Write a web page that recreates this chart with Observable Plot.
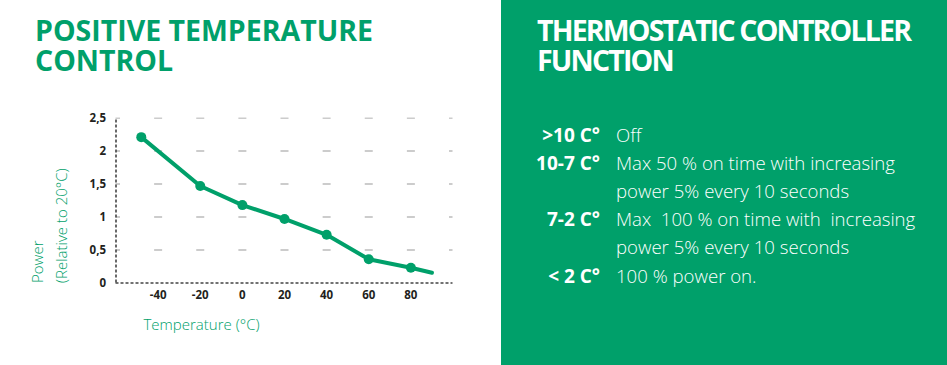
<!DOCTYPE html>
<html>
<head>
<meta charset="utf-8">
<script src="https://cdn.jsdelivr.net/npm/d3@7"></script>
<script src="https://cdn.jsdelivr.net/npm/@observablehq/plot@0.6"></script>
<style>
  html, body { margin: 0; padding: 0; background: #fff; }
  #root { position: relative; width: 947px; height: 365px; overflow: hidden; font-family: "Open Sans", sans-serif; }
  .title { position: absolute; font-weight: 700; font-size: 28.5px; white-space: nowrap; }
  .title .ln { height: 30px; line-height: 30px; }
  .title .ln span { display: inline-block; line-height: 30px; }
  #leftTitle { left: 35px; top: 15px; color: #00a06a; }
  #panel { position: absolute; left: 501px; top: 0; width: 446px; height: 365px; background: #00a06a; }
  #rightTitle { left: 36px; top: 15px; color: #fff; }
  #rows { position: absolute; left: 0; top: 120.5px; display: grid; grid-template-columns: 99px auto; column-gap: 16px; color: #fff; font-size: 18.6px; line-height: 28.2px; }
  #rows .lab { text-align: right; font-weight: 700; white-space: nowrap; font-size: 19px; }
  #rows .desc { font-weight: 300; white-space: pre; }
  #chart { position: absolute; left: 0; top: 100px; }
  #chart [aria-label$="tick label"] text { font-weight: 700; }
</style>
</head>
<body>
<div id="root">
  <div id="leftTitle" class="title"></div>
  <div id="chart"></div>
  <div id="panel">
    <div id="rightTitle" class="title"></div>
    <div id="rows"></div>
  </div>
</div>
<script>
// ---- data ----
const leftTitleLines = ["POSITIVE TEMPERATURE", "CONTROL"];
const rightTitleLines = ["THERMOSTATIC CONTROLLER", "FUNCTION"];
const temps = [-48, -20, 0, 20, 40, 60, 80, 90];
const powers = [2.21, 1.47, 1.18, 0.97, 0.73, 0.36, 0.23, 0.155];
const markerFlags = [true, true, true, true, true, true, true, false];
const xTicks = [-40, -20, 0, 20, 40, 60, 80];
const yTicks = [0, 0.5, 1, 1.5, 2, 2.5];
const gridTemps = [-60, -40, -20, 0, 20, 40, 60, 80, 100];
const xTitle = "Temperature (°C)";
const yTitleLines = ["Power", "(Relative to 20°C)"];
const controllerLabels = [">10 C°", "10-7 C°", "", "7-2 C°", "", "< 2 C°"];
const controllerTexts = [
  "Off",
  "Max 50 % on time with increasing",
  "power 5% every 10 seconds",
  "Max  100 % on time with  increasing",
  "power 5% every 10 seconds",
  "100 % power on."
];

// ---- titles / right panel ----
function buildTitle(el, lines, targetWidth) {
  const spans = lines.map(t => {
    const ln = document.createElement("div"); ln.className = "ln";
    const s = document.createElement("span"); s.textContent = t;
    ln.appendChild(s); el.appendChild(ln);
    return s;
  });
  const w = spans[0].getBoundingClientRect().width;
  const ls = (targetWidth - w) / Math.max(1, lines[0].length - 1);
  el.style.letterSpacing = ls + "px";
}
buildTitle(document.getElementById("leftTitle"), leftTitleLines, 338);
buildTitle(document.getElementById("rightTitle"), rightTitleLines, 375);

const rows = document.getElementById("rows");
controllerLabels.forEach((lab, i) => {
  const a = document.createElement("div"); a.className = "lab"; a.textContent = lab || "\u00a0";
  const b = document.createElement("div"); b.className = "desc"; b.textContent = controllerTexts[i];
  rows.appendChild(a); rows.appendChild(b);
});

// ---- chart ----
const green = "#00a06a";
const points = temps.map((t, i) => ({t, p: powers[i], m: markerFlags[i]}));
const grid = yTicks.filter(v => v > 0).flatMap(v => gridTemps.map(t => ({t, v})));
const fmt = d => String(d).replace(".", ",");

const chart = Plot.plot({
  width: 500,
  height: 250,
  marginLeft: 115.5,
  marginRight: 47.5,
  marginTop: 17.5,
  marginBottom: 67.5,
  x: {domain: [-60, 100]},
  y: {domain: [0, 2.5]},
  style: {fontFamily: "Open Sans, sans-serif", overflow: "visible", background: "transparent"},
  marks: [
    Plot.link(grid, {x1: d => d.t - 1.9, x2: d => d.t + 1.9, y1: "v", y2: "v", stroke: "#cccccc", strokeWidth: 2, clip: true}),
    Plot.ruleX([-60], {y1: 0, y2: 2.5, stroke: "#444", strokeWidth: 1.6, strokeDasharray: "3,2"}),
    Plot.ruleY([0], {x1: -60, x2: 100, stroke: "#444", strokeWidth: 1.6, strokeDasharray: "3,2"}),
    Plot.axisY({ticks: yTicks, tickSize: 0, tickPadding: 10, tickFormat: fmt, label: null, fontSize: 11.5, fontWeight: "bold", fill: "#231f20"}),
    Plot.axisX({ticks: xTicks, tickSize: 0, tickPadding: 8, tickFormat: d => String(d), label: null, fontSize: 11.5, fontWeight: "bold", fill: "#231f20"}),
    Plot.line(points, {x: "t", y: "p", stroke: green, strokeWidth: 4, strokeLinejoin: "round"}),
    Plot.dot(points.filter(d => d.m), {x: "t", y: "p", r: 5, fill: green, stroke: "none"}),
    Plot.text([yTitleLines[0]], {frameAnchor: "bottom-left", dx: -77.5, rotate: -90, textAnchor: "start", lineAnchor: "middle", fill: green, fontSize: 15, fontWeight: 300}),
    Plot.text([yTitleLines[1]], {frameAnchor: "bottom-left", dx: -53.5, rotate: -90, textAnchor: "start", lineAnchor: "middle", fill: green, fontSize: 15, fontWeight: 300}),
    Plot.text([xTitle], {frameAnchor: "bottom-left", dx: 27.5, dy: 42.5, textAnchor: "start", lineAnchor: "middle", fill: green, fontSize: 15, fontWeight: 300})
  ]
});
document.getElementById("chart").appendChild(chart);
</script>
</body>
</html>
